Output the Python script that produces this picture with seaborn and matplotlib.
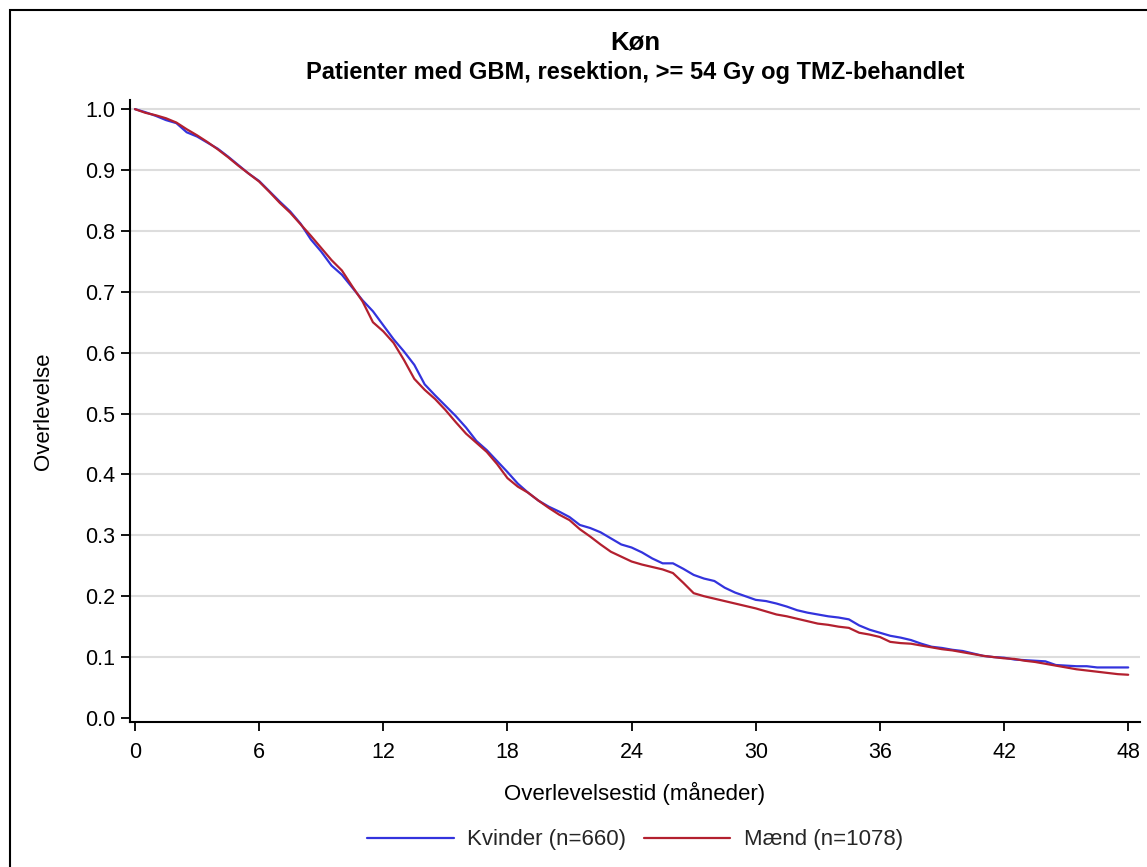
import numpy as np
import pandas as pd
import matplotlib
matplotlib.use("Agg")
import matplotlib.pyplot as plt
from matplotlib.patches import Rectangle
import seaborn as sns

# ---- data ----
months = [i * 0.5 for i in range(97)]

kvinder = [1.000, 0.995, 0.989, 0.982, 0.977, 0.962, 0.955, 0.945, 0.935, 0.922,
           0.908, 0.894, 0.882, 0.865, 0.848, 0.832, 0.812, 0.786, 0.766, 0.743,
           0.728, 0.707, 0.686, 0.668, 0.645, 0.622, 0.602, 0.580, 0.548, 0.530,
           0.513, 0.496, 0.477, 0.455, 0.440, 0.422, 0.404, 0.385, 0.370, 0.357,
           0.347, 0.339, 0.330, 0.317, 0.312, 0.305, 0.295, 0.285, 0.280, 0.272,
           0.262, 0.254, 0.254, 0.245, 0.235, 0.229, 0.225, 0.214, 0.206, 0.200,
           0.194, 0.192, 0.188, 0.183, 0.177, 0.173, 0.170, 0.167, 0.165, 0.162,
           0.152, 0.145, 0.140, 0.135, 0.132, 0.128, 0.122, 0.117, 0.115, 0.112,
           0.110, 0.106, 0.102, 0.100, 0.099, 0.096, 0.095, 0.094, 0.093, 0.087,
           0.086, 0.085, 0.085, 0.083, 0.083, 0.083, 0.083]

maend = [1.000, 0.994, 0.990, 0.985, 0.978, 0.967, 0.957, 0.946, 0.934, 0.921,
         0.907, 0.894, 0.881, 0.864, 0.846, 0.830, 0.811, 0.792, 0.772, 0.752,
         0.735, 0.709, 0.684, 0.650, 0.635, 0.616, 0.588, 0.557, 0.539, 0.524,
         0.506, 0.486, 0.467, 0.452, 0.437, 0.417, 0.394, 0.380, 0.370, 0.357,
         0.345, 0.334, 0.325, 0.310, 0.298, 0.285, 0.273, 0.265, 0.257, 0.252,
         0.248, 0.244, 0.238, 0.222, 0.205, 0.200, 0.196, 0.192, 0.188, 0.184,
         0.180, 0.175, 0.170, 0.167, 0.163, 0.159, 0.155, 0.153, 0.150, 0.148,
         0.140, 0.137, 0.133, 0.125, 0.123, 0.122, 0.119, 0.116, 0.113, 0.111,
         0.108, 0.105, 0.102, 0.100, 0.098, 0.097, 0.094, 0.092, 0.089, 0.086,
         0.083, 0.080, 0.078, 0.076, 0.074, 0.072, 0.071]

series_names = ["Kvinder (n=660)", "Mænd (n=1078)"]
x_ticks = [0, 6, 12, 18, 24, 30, 36, 42, 48]
y_ticks = [0.0, 0.1, 0.2, 0.3, 0.4, 0.5, 0.6, 0.7, 0.8, 0.9, 1.0]

title = "Køn"
subtitle = "Patienter med GBM, resektion, >= 54 Gy og TMZ-behandlet"
xlabel = "Overlevelsestid (måneder)"
ylabel = "Overlevelse"

df = pd.DataFrame({
    "t": months + months,
    "s": kvinder + maend,
    "grp": [series_names[0]] * len(months) + [series_names[1]] * len(months),
})

# ---- styling ----
sns.set_theme(style="white")
plt.rcParams["font.family"] = ["Liberation Sans", "DejaVu Sans"]

fig = plt.figure(figsize=(11.47, 8.67), dpi=100)
ax = fig.add_axes([130 / 1147, 1 - 722 / 867, (1140 - 130) / 1147, (722 - 100) / 867])

palette = {series_names[0]: "#3333DD", series_names[1]: "#B3202F"}
sns.lineplot(data=df, x="t", y="s", hue="grp", palette=palette, ax=ax,
             linewidth=1.6, legend=False, zorder=3)

ax.set_xlim(-0.24, 48.57)
ax.set_ylim(-0.0066, 1.015)
ax.set_xticks(x_ticks)
ax.set_xticklabels([str(v) for v in x_ticks])
ax.set_yticks(y_ticks)
ax.set_yticklabels([f"{v:.1f}" for v in y_ticks])

for v in y_ticks[1:]:
    ax.axhline(v, color="#dddddd", lw=1.5, zorder=1)

for side in ["top", "right"]:
    ax.spines[side].set_visible(False)
for side in ["left", "bottom"]:
    ax.spines[side].set_color("black")
    ax.spines[side].set_linewidth(1.5)

ax.tick_params(axis="both", which="major", direction="out", length=6.5, width=1.3,
               color="black", labelsize=15.5, labelcolor="black",
               left=True, bottom=True)
ax.tick_params(axis="x", pad=8)
ax.tick_params(axis="y", pad=4)

ax.set_xlabel(xlabel, fontsize=16, color="black", va="center")
ax.set_ylabel(ylabel, fontsize=16, color="black", va="center")
ax.xaxis.set_label_coords(0.5, (722 - 793) / 622)
ax.yaxis.set_label_coords((44 - 130) / 1010, (722 - 411) / 622)

cx = (130 + 1140) / 2 / 1147
fig.text(cx, 1 - 42 / 867, title, ha="center", va="center", fontsize=18.5,
         fontweight="bold", color="black")
fig.text(cx, 1 - 73 / 867, subtitle, ha="center", va="center", fontsize=17,
         fontweight="bold", color="black")

handles = [plt.Line2D([], [], color=palette[n], lw=1.6) for n in series_names]
fig.legend(handles, series_names, loc="center", bbox_to_anchor=(cx, 1 - 840 / 867),
           ncol=2, frameon=False, fontsize=16, handlelength=3.9, columnspacing=0.8,
           handletextpad=0.6)

fig.patches.append(Rectangle((10 / 1147, -0.2), 1.5, 1.2 - 10 / 867, transform=fig.transFigure,
                             fill=False, edgecolor="black", lw=1.5, zorder=10))

fig.savefig("out.png", dpi=100, facecolor="white")
